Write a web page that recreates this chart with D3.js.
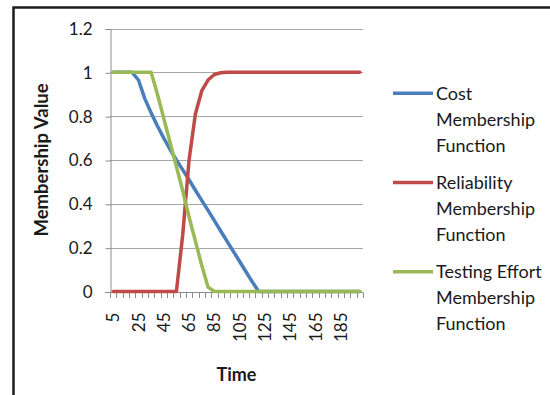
<!DOCTYPE html>
<html>
<head>
<meta charset="utf-8">
<script src="https://cdn.jsdelivr.net/npm/d3@7"></script>
<style>
  html, body { margin: 0; padding: 0; background: #fff; }
  svg { display: block; }
  text { font-family: Lato, "Open Sans", sans-serif; fill: #1a1a1a; }
</style>
</head>
<body>
<svg id="chart" width="550" height="395"></svg>
<script>
const categories = [5,10,15,20,25,30,35,40,45,50,55,60,65,70,75,80,85,90,95,100,
                    105,110,115,120,125,130,135,140,145,150,155,160,165,170,175,180,185,190,195,200];
const costValues = [1,1,1,1,0.965,0.88,0.815,0.755,0.70,0.648,0.60,0.555,0.51,0.462,0.416,0.37,0.323,0.276,0.23,0.183,
                    0.137,0.09,0.044,0,0,0,0,0,0,0,0,0,0,0,0,0,0,0,0,0];
const reliabilityValues = [0,0,0,0,0,0,0,0,0,0,0,0.26,0.6,0.81,0.915,0.965,0.99,0.998,1,1,
                           1,1,1,1,1,1,1,1,1,1,1,1,1,1,1,1,1,1,1,1];
const testingEffortValues = [1,1,1,1,1,1,1,0.9,0.79,0.68,0.57,0.46,0.34,0.23,0.12,0.02,0,0,0,0,
                             0,0,0,0,0,0,0,0,0,0,0,0,0,0,0,0,0,0,0,0];
const seriesNames = ["Cost Membership Function", "Reliability Membership Function", "Testing Effort Membership Function"];
const legendLines = [["Cost", "Membership", "Function"], ["Reliability", "Membership", "Function"], ["Testing Effort", "Membership", "Function"]];
const seriesColors = ["#4A7EBB", "#BE4B48", "#98B954"];
const yTicks = [0, 0.2, 0.4, 0.6, 0.8, 1, 1.2];
const xTickLabels = [5, 25, 45, 65, 85, 105, 125, 145, 165, 185];
const xTitle = "Time";
const yTitle = "Membership Value";

(function () {
const series = [costValues, reliabilityValues, testingEffortValues].map((vals, i) => ({
  name: seriesNames[i], color: seriesColors[i], legend: legendLines[i],
  points: categories.map((c, j) => ({ c, v: vals[j] }))
}));

const svg = d3.select("#chart");
const pLeft = 110, pRight = 363, pTop = 28.5, pBottom = 291.5;

const x = d3.scaleBand().domain(categories).range([pLeft, pRight]).padding(0);
const y = d3.scaleLinear().domain([0, 1.2]).range([pBottom, pTop]);

// outer frame
svg.append("path")
  .attr("d", `M13.5,400 L13.5,7.5 L560,7.5`)
  .attr("fill", "none").attr("stroke", "#1c1c1c").attr("stroke-width", 2.5);

// gridlines
svg.append("g").selectAll("line").data(yTicks.filter(t => t > 0)).join("line")
  .attr("x1", pLeft).attr("x2", pRight)
  .attr("y1", d => Math.round(y(d)) + 0.5).attr("y2", d => Math.round(y(d)) + 0.5)
  .attr("stroke", "#a6a6a6").attr("stroke-width", 1);

// y axis
const yAxis = svg.append("g").attr("transform", `translate(${pLeft + 0.5},0.5)`)
  .call(d3.axisLeft(y).tickValues(yTicks).tickFormat(d3.format("")).tickSize(5).tickPadding(13));
yAxis.select(".domain").attr("stroke", "#8c8c8c");
yAxis.selectAll(".tick line").attr("stroke", "#8c8c8c");
yAxis.selectAll(".tick text").style("font-size", "17px").attr("fill", "#1a1a1a")
  .style("font-family", "Lato, sans-serif");

// x axis line
svg.append("line").attr("x1", pLeft - 5).attr("x2", pRight)
  .attr("y1", Math.round(pBottom) + 0.5).attr("y2", Math.round(pBottom) + 0.5)
  .attr("stroke", "#8c8c8c");
// x tick marks at category boundaries
const bounds = categories.map(c => x(c)).concat([x(categories[categories.length - 1]) + x.bandwidth()]);
svg.append("g").selectAll("line").data(bounds).join("line")
  .attr("x1", d => Math.round(d) + 0.5).attr("x2", d => Math.round(d) + 0.5)
  .attr("y1", Math.round(pBottom) + 0.5).attr("y2", Math.round(pBottom) + 6)
  .attr("stroke", "#8c8c8c");

// x labels
const xAxis = svg.append("g").attr("transform", `translate(0,${pBottom})`)
  .call(d3.axisBottom(x).tickValues(xTickLabels).tickSize(0));
xAxis.select(".domain").remove();
xAxis.selectAll(".tick text")
  .attr("transform", "rotate(-90)")
  .attr("text-anchor", "end")
  .attr("x", -21).attr("y", 0).attr("dy", "0.36em")
  .style("font-size", "17px").attr("fill", "#1a1a1a")
  .style("font-family", "Lato, sans-serif");

// lines
const line = d3.line().x(d => x(d.c) + x.bandwidth() / 2).y(d => y(d.v));
svg.append("g").selectAll("path").data(series).join("path")
  .attr("d", d => line(d.points))
  .attr("fill", "none").attr("stroke", d => d.color)
  .attr("stroke-width", 3.5).attr("stroke-linejoin", "round").attr("stroke-linecap", "round");

// axis titles
svg.append("text").attr("x", (pLeft + pRight) / 2).attr("y", 381)
  .attr("text-anchor", "middle").style("font-size", "18px").style("font-weight", "bold")
  .text(xTitle);
svg.append("text").attr("transform", `translate(48,${(pTop + pBottom) / 2}) rotate(-90)`)
  .attr("text-anchor", "middle").style("font-size", "18.5px").style("font-weight", "bold")
  .text(yTitle);

// legend
const lg = svg.append("g").selectAll("g").data(series).join("g")
  .attr("transform", (d, i) => `translate(393,${93.3 + i * 89.2})`);
lg.append("line").attr("x1", 0).attr("x2", 40).attr("y1", 0).attr("y2", 0)
  .attr("stroke", d => d.color).attr("stroke-width", 3.5);
lg.append("text").attr("x", 43).attr("y", 6.3)
  .style("font-size", "18px")
  .selectAll("tspan").data(d => d.legend).join("tspan")
  .attr("x", 43).attr("dy", (d, i) => i === 0 ? 0 : 26)
  .text(d => d);
})();
</script>
</body>
</html>
